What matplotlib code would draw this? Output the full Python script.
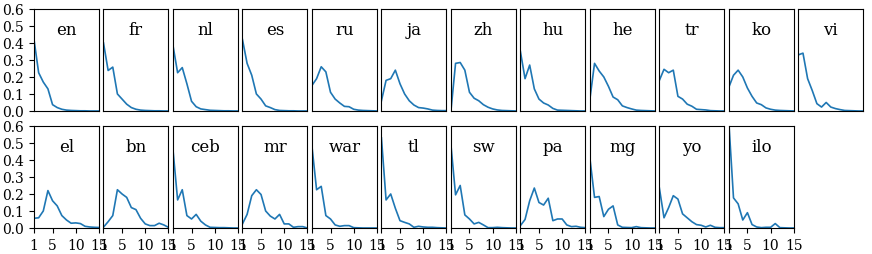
import matplotlib
matplotlib.use('Agg')
import matplotlib.pyplot as plt
import numpy as np

plt.rcParams['font.family'] = 'DejaVu Serif'
plt.rcParams['font.size'] = 10

positions = np.arange(1, 16)

languages = ['en', 'fr', 'nl', 'es', 'ru', 'ja', 'zh', 'hu', 'he', 'tr', 'ko', 'vi',
             'el', 'bn', 'ceb', 'mr', 'war', 'tl', 'sw', 'pa', 'mg', 'yo', 'ilo']

en = [0.42, 0.225, 0.17, 0.13, 0.037, 0.02, 0.01, 0.005, 0.003, 0.002, 0.001, 0.001, 0.0, 0.0, 0.0]
fr = [0.40, 0.238, 0.258, 0.10, 0.07, 0.04, 0.02, 0.01, 0.005, 0.003, 0.002, 0.001, 0.001, 0.0, 0.0]
nl = [0.385, 0.225, 0.255, 0.16, 0.057, 0.025, 0.012, 0.008, 0.004, 0.003, 0.002, 0.001, 0.001, 0.0, 0.0]
es = [0.42, 0.28, 0.21, 0.10, 0.07, 0.03, 0.02, 0.008, 0.003, 0.002, 0.001, 0.001, 0.0, 0.0, 0.0]
ru = [0.15, 0.19, 0.26, 0.23, 0.11, 0.07, 0.047, 0.027, 0.025, 0.01, 0.005, 0.003, 0.002, 0.001, 0.0]
ja = [0.06, 0.18, 0.19, 0.24, 0.16, 0.10, 0.06, 0.035, 0.02, 0.017, 0.012, 0.005, 0.003, 0.002, 0.002]
zh = [0.0, 0.28, 0.285, 0.24, 0.11, 0.075, 0.06, 0.037, 0.022, 0.012, 0.006, 0.003, 0.002, 0.001, 0.0]
hu = [0.35, 0.19, 0.27, 0.13, 0.07, 0.047, 0.035, 0.015, 0.005, 0.004, 0.003, 0.002, 0.001, 0.0, 0.0]
he = [0.07, 0.28, 0.235, 0.20, 0.145, 0.082, 0.066, 0.03, 0.02, 0.012, 0.005, 0.003, 0.002, 0.001, 0.0]
tr = [0.18, 0.245, 0.225, 0.24, 0.086, 0.07, 0.04, 0.028, 0.01, 0.008, 0.006, 0.002, 0.001, 0.0, 0.0]
ko = [0.14, 0.21, 0.24, 0.20, 0.135, 0.086, 0.047, 0.037, 0.018, 0.01, 0.005, 0.003, 0.002, 0.001, 0.0]
vi = [0.33, 0.34, 0.19, 0.12, 0.043, 0.023, 0.05, 0.023, 0.014, 0.008, 0.003, 0.002, 0.001, 0.0, 0.0]
el = [0.057, 0.06, 0.10, 0.22, 0.16, 0.13, 0.073, 0.047, 0.028, 0.03, 0.026, 0.01, 0.006, 0.004, 0.003]
bn = [0.005, 0.037, 0.073, 0.225, 0.20, 0.18, 0.12, 0.108, 0.057, 0.024, 0.014, 0.014, 0.028, 0.018, 0.004]
ceb = [0.46, 0.165, 0.225, 0.073, 0.053, 0.08, 0.04, 0.018, 0.004, 0.003, 0.002, 0.002, 0.001, 0.0, 0.0]
mr = [0.024, 0.08, 0.19, 0.225, 0.197, 0.10, 0.07, 0.053, 0.08, 0.024, 0.024, 0.004, 0.008, 0.008, 0.0]
war = [0.48, 0.225, 0.245, 0.073, 0.053, 0.018, 0.01, 0.014, 0.014, 0.002, 0.001, 0.0, 0.0, 0.0, 0.0]
tl = [0.53, 0.165, 0.20, 0.116, 0.043, 0.033, 0.024, 0.004, 0.01, 0.006, 0.004, 0.004, 0.002, 0.001, 0.0]
sw = [0.49, 0.195, 0.25, 0.077, 0.053, 0.024, 0.033, 0.018, 0.002, 0.002, 0.004, 0.002, 0.001, 0.0, 0.0]
pa = [0.014, 0.05, 0.16, 0.235, 0.15, 0.135, 0.175, 0.043, 0.053, 0.053, 0.018, 0.008, 0.01, 0.004, 0.002]
mg = [0.41, 0.18, 0.185, 0.067, 0.11, 0.13, 0.018, 0.004, 0.003, 0.002, 0.008, 0.002, 0.001, 0.0, 0.0]
yo = [0.235, 0.06, 0.12, 0.19, 0.17, 0.083, 0.06, 0.037, 0.02, 0.016, 0.006, 0.016, 0.004, 0.002, 0.002]
ilo = [0.62, 0.177, 0.142, 0.047, 0.09, 0.02, 0.006, 0.002, 0.004, 0.004, 0.026, 0.002, 0.001, 0.0, 0.0]

series = [en, fr, nl, es, ru, ja, zh, hu, he, tr, ko, vi,
          el, bn, ceb, mr, war, tl, sw, pa, mg, yo, ilo]

fig, axes = plt.subplots(2, 12, figsize=(8.72, 2.55), dpi=100)
fig.subplots_adjust(left=0.039, right=0.99, top=0.961, bottom=0.102,
                    wspace=0.07, hspace=0.147)

for i, ax in enumerate(axes.flat):
    if i >= len(languages):
        ax.axis('off')
        continue
    ax.plot(positions, series[i], color='tab:blue', linewidth=1.2)
    ax.set_xlim(1, 15)
    ax.set_ylim(0, 0.6)
    ax.text(0.5, 0.8, languages[i], transform=ax.transAxes,
            ha='center', va='center', fontsize=12)
    row, col = divmod(i, 12)
    if col == 0:
        ax.set_yticks([0.0, 0.1, 0.2, 0.3, 0.4, 0.5, 0.6])
    else:
        ax.set_yticks([])
    if row == 1:
        ax.set_xticks([1, 5, 10, 15])
    else:
        ax.set_xticks([])

plt.savefig('out.png', dpi=100)
